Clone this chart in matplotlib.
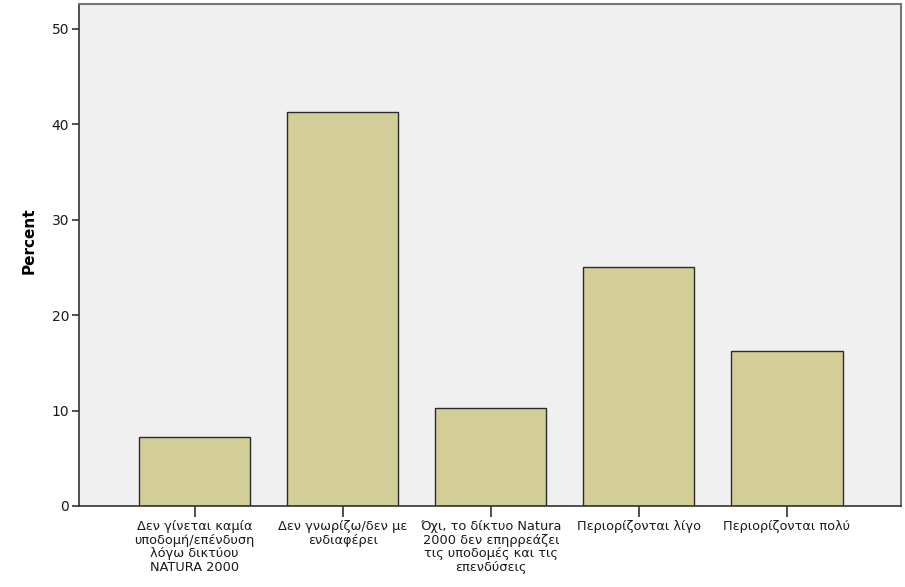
import matplotlib.pyplot as plt

categories = [
    "Δεν γίνεται καμία\nυποδομή/επένδυση\nλόγω δικτύου\nNATURA 2000",
    "Δεν γνωρίζω/δεν με\nενδιαφέρει",
    "Όχι, το δίκτυο Natura\n2000 δεν επηρρεάζει\nτις υποδομές και τις\nεπενδύσεις",
    "Περιορίζονται λίγο",
    "Περιορίζονται πολύ",
]
percent = [7.2, 41.3, 10.3, 25.0, 16.2]
yticks = [0, 10, 20, 30, 40, 50]

plt.rcParams["font.family"] = ["DejaVu Sans"]

fig = plt.figure(figsize=(9.05, 5.87), dpi=100)
ax = fig.add_axes([0.0873, 0.138, 0.9083, 0.855])
ax.set_facecolor("#F0F0F0")

x = list(range(len(categories)))
ax.bar(x, percent, width=0.75, color="#D3CE97", edgecolor="#2b2b2b", linewidth=1.0, zorder=2)

ax.set_xlim(-0.78, 4.77)
ax.set_ylim(0, 52.6)
ax.set_yticks(yticks)
ax.set_xticks(x)
ax.set_xticklabels(categories, fontsize=9.3, linespacing=1.08, color="#1a1a1a")
ax.tick_params(axis="y", labelsize=10, length=5, width=1.2, color="#333333", labelcolor="#1a1a1a", pad=2)
ax.tick_params(axis="x", length=8, width=1.2, color="#333333", pad=2)

for side in ["left", "bottom"]:
    ax.spines[side].set_color("#333333")
    ax.spines[side].set_linewidth(1.2)
for side in ["top", "right"]:
    ax.spines[side].set_color("#777777")
    ax.spines[side].set_linewidth(1.5)

ax.set_ylabel("Percent", fontsize=11, fontweight="bold")
ax.yaxis.set_label_coords(-0.051, 0.528)

fig.savefig("out.png", dpi=100)
